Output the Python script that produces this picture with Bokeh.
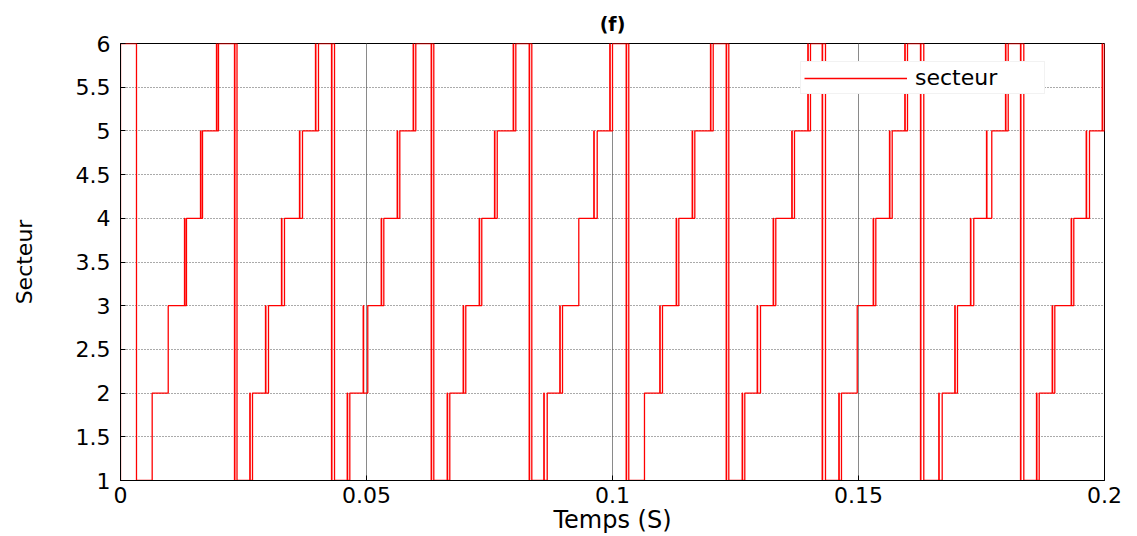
from bokeh.plotting import figure
from bokeh.models import Range1d, FixedTicker
from bokeh.embed import file_html
from bokeh.resources import INLINE

# ---- data (times in milliseconds) ----
start_value = 6
# first and last edge of each (chattering) sector switch
edge_first_ms = [3.25, 6.44, 9.70, 13.01, 16.26, 19.51,
                 23.17, 26.28, 29.47, 32.72, 36.38, 39.63,
                 42.89, 46.08, 49.33, 52.99, 56.24, 59.49,
                 63.15, 66.40, 69.65, 72.91, 76.02, 79.82,
                 83.07, 86.04, 89.29, 93.15, 96.20, 99.45,
                 102.78, 106.50, 109.61, 112.95, 116.20, 119.92,
                 123.11, 126.36, 129.41, 132.66, 136.44, 139.70,
                 142.62, 146.00, 149.74, 152.99, 156.30, 159.41,
                 162.60, 166.32, 169.57, 172.76, 176.02, 179.88,
                 182.93, 186.18, 189.37, 193.23, 196.28, 199.53]
edge_last_ms = [3.25, 6.44, 9.70, 13.41, 16.67, 19.92,
                23.68, 26.83, 30.08, 33.33, 36.99, 40.24,
                43.50, 46.61, 50.26, 53.52, 56.77, 60.02,
                63.68, 66.93, 70.18, 73.43, 76.57, 80.35,
                83.60, 86.73, 89.84, 93.15, 96.89, 100.00,
                103.31, 106.50, 110.16, 113.48, 116.73, 120.47,
                123.64, 126.89, 130.08, 133.19, 136.99, 140.24,
                143.29, 146.54, 149.74, 153.52, 156.85, 159.96,
                163.27, 167.01, 170.12, 173.43, 177.09, 180.43,
                183.60, 186.73, 189.90, 193.76, 196.95, 200.00]
sector_after = [1, 2, 3, 4, 5, 6,
                1, 2, 3, 4, 5, 6,
                1, 2, 3, 4, 5, 6,
                1, 2, 3, 4, 5, 6,
                1, 2, 3, 4, 5, 6,
                1, 2, 3, 4, 5, 6,
                1, 2, 3, 4, 5, 6,
                1, 2, 3, 4, 5, 6,
                1, 2, 3, 4, 5, 6,
                1, 2, 3, 4, 5, 6]

x_ticks = [0, 0.05, 0.1, 0.15, 0.2]
x_tick_labels = ["0", "0.05", "0.1", "0.15", "0.2"]
y_ticks = [1, 1.5, 2, 2.5, 3, 3.5, 4, 4.5, 5, 5.5, 6]
y_tick_labels = ["1", "1.5", "2", "2.5", "3", "3.5", "4", "4.5", "5", "5.5", "6"]

# ---- build the step trace ----
xs = [0.0, 0.0]
ys = [1, start_value]
prev = start_value
for a, b, v in zip(edge_first_ms, edge_last_ms, sector_after):
    a_s, b_s = a / 1000.0, b / 1000.0
    if b - a > 0.15:
        xs += [a_s, a_s + 0.00008, b_s]
        ys += [v, prev, v]
    else:
        xs.append(a_s)
        ys.append(v)
    prev = v
xs.append(0.2)
ys.append(prev)

FONT = "DejaVu Sans"

p = figure(width=1137, height=536, output_backend="svg", toolbar_location=None,
           x_range=Range1d(0, 0.2), y_range=Range1d(1, 6),
           min_border_left=120, min_border_right=33,
           min_border_top=43, min_border_bottom=56)
p.background_fill_color = "white"
p.border_fill_color = "white"
p.outline_line_color = "black"
p.outline_line_width = 1

p.title.text = "(f)"
p.title.align = "center"
p.title.text_font = FONT
p.title.text_font_size = "19px"
p.title.text_font_style = "bold"
p.title.text_color = "black"
p.title.standoff = 17

p.step(xs, ys, mode="after", line_color="#ff0000", line_width=1.3,
       legend_label="secteur")

xt = FixedTicker(ticks=x_ticks)
yt = FixedTicker(ticks=y_ticks)
x_over = {t: l for t, l in zip(x_ticks, x_tick_labels)}
y_over = {t: l for t, l in zip(y_ticks, y_tick_labels)}

xa = p.xaxis[0]
xa.ticker = xt
xa.major_label_overrides = x_over
xa.axis_label = "Temps (S)"
ya = p.yaxis[0]
ya.ticker = yt
ya.major_label_overrides = y_over
ya.axis_label = "Secteur"

for ax in (xa, ya):
    ax.major_label_text_font = FONT
    ax.major_label_text_font_size = "22px"
    ax.major_label_text_color = "black"
    ax.axis_label_text_font = FONT
    ax.axis_label_text_font_style = "normal"
    ax.axis_label_text_color = "black"
    ax.axis_line_color = "black"
    ax.major_tick_in = 5
    ax.major_tick_out = 0
    ax.minor_tick_line_color = None
    ax.major_tick_line_color = "black"

xa.axis_label_text_font_size = "24px"
xa.major_label_standoff = 6
xa.axis_label_standoff = 0
ya.axis_label_text_font_size = "22px"
ya.major_label_standoff = 10
ya.axis_label_standoff = 36

p.xgrid.ticker = xt
p.ygrid.ticker = yt
p.xgrid.grid_line_color = "#8a8a8a"
p.xgrid.grid_line_width = 1
p.ygrid.grid_line_color = "#555555"
p.ygrid.grid_line_dash = "1 2"
p.ygrid.grid_line_width = 1

lg = p.legend[0]
lg.location = (680, 386)
lg.label_text_font = FONT
lg.label_text_font_size = "22px"
lg.label_text_color = "black"
lg.glyph_width = 103
lg.glyph_height = 20
lg.label_standoff = 8
lg.label_width = 126
lg.padding = 3
lg.margin = 0
lg.spacing = 0
lg.border_line_color = "#e6e6e6"
lg.background_fill_color = "white"
lg.background_fill_alpha = 1.0

open("out.html", "w").write(file_html(p, INLINE))
